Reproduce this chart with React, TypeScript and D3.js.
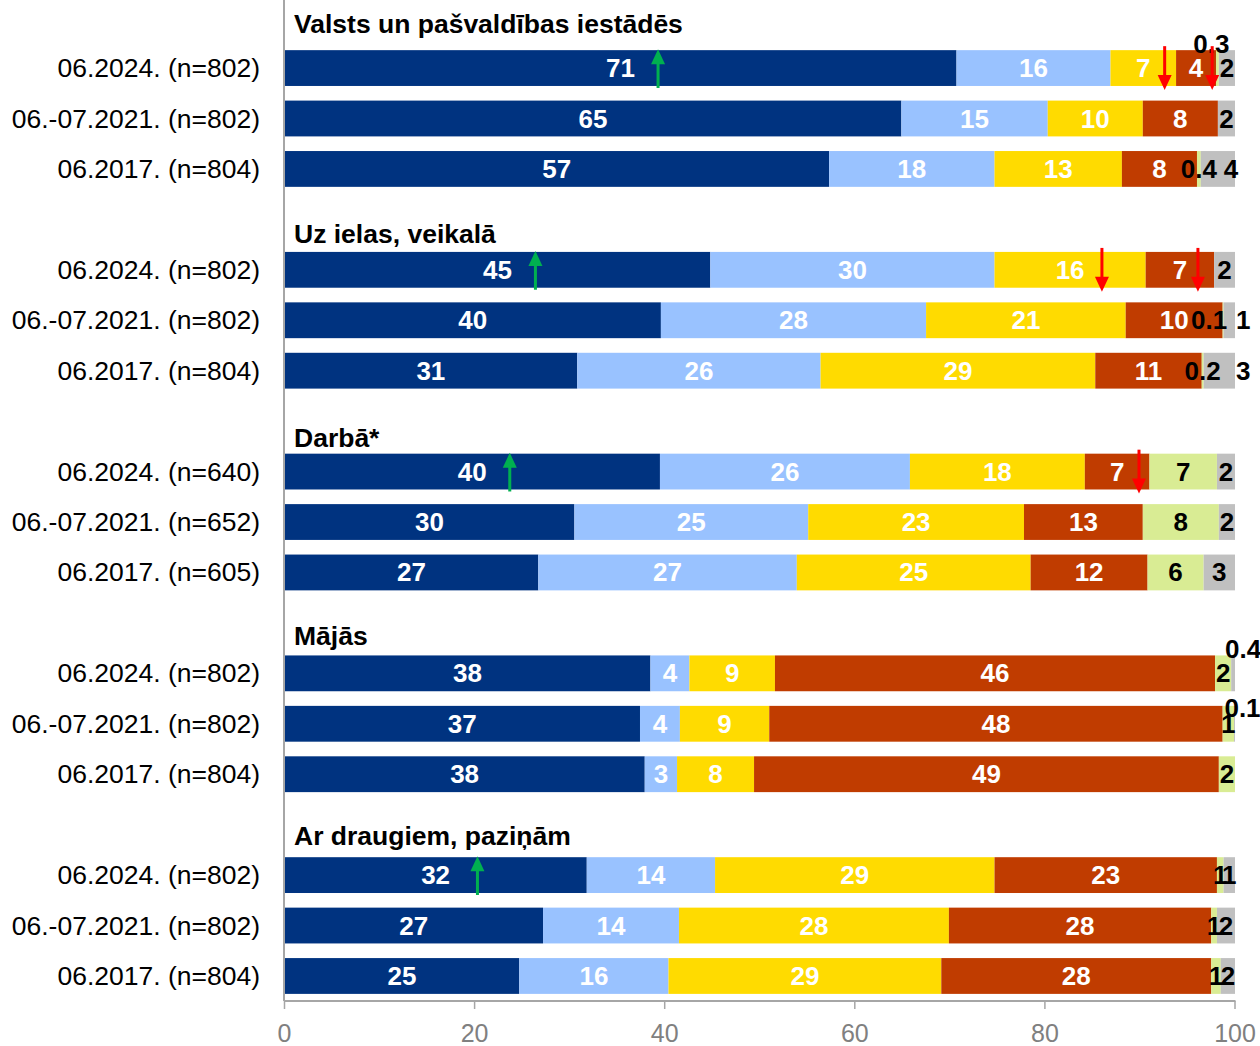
import React from "react";
import * as d3 from "d3";

// ---- Data ----
const groups = [
  "Valsts un pašvaldības iestādēs",
  "Uz ielas, veikalā",
  "Darbā*",
  "Mājās",
  "Ar draugiem, paziņām",
];

const rowLabels = [
  "06.2024. (n=802)", "06.-07.2021. (n=802)", "06.2017. (n=804)",
  "06.2024. (n=802)", "06.-07.2021. (n=802)", "06.2017. (n=804)",
  "06.2024. (n=640)", "06.-07.2021. (n=652)", "06.2017. (n=605)",
  "06.2024. (n=802)", "06.-07.2021. (n=802)", "06.2017. (n=804)",
  "06.2024. (n=802)", "06.-07.2021. (n=802)", "06.2017. (n=804)",
];

const s1 = [70.7, 64.9, 57.3, 44.8, 39.6, 30.8, 39.5, 30.5, 26.7, 38.5, 37.4, 37.9, 31.8, 27.2, 24.7];
const s2 = [16.2, 15.4, 17.4, 29.9, 27.9, 25.6, 26.3, 24.6, 27.2, 4.1, 4.2, 3.4, 13.5, 14.3, 15.7];
const s3 = [6.9, 10.0, 13.4, 15.9, 21.0, 28.9, 18.4, 22.7, 24.6, 9.0, 9.4, 8.1, 29.4, 28.4, 28.7];
const s4 = [4.2, 7.9, 7.9, 7.2, 10.2, 11.2, 6.8, 12.5, 12.3, 46.3, 47.7, 48.9, 23.4, 27.6, 28.4];
const s5 = [0.3, 0, 0.4, 0, 0.1, 0.2, 7.1, 8.0, 5.9, 1.7, 1.2, 1.7, 0.7, 0.6, 1.0];
const s6 = [1.7, 1.8, 3.6, 2.2, 1.2, 3.3, 1.9, 1.7, 3.3, 0.4, 0.1, 0, 1.2, 1.9, 1.5];

const l1 = ["71", "65", "57", "45", "40", "31", "40", "30", "27", "38", "37", "38", "32", "27", "25"];
const l2 = ["16", "15", "18", "30", "28", "26", "26", "25", "27", "4", "4", "3", "14", "14", "16"];
const l3 = ["7", "10", "13", "16", "21", "29", "18", "23", "25", "9", "9", "8", "29", "28", "29"];
const l4 = ["4", "8", "8", "7", "10", "11", "7", "13", "12", "46", "48", "49", "23", "28", "28"];
const l5 = ["0.3", "", "0.4", "", "0.1", "0.2", "7", "8", "6", "2", "1", "2", "1", "1", "1"];
const l6 = ["2", "2", "4", "2", "1", "3", "2", "2", "3", "0.4", "0.1", "", "1", "2", "2"];

const xTicks = [0, 20, 40, 60, 80, 100];

// significant-change arrows: row index, value position, direction
const arrowRows = [0, 3, 6, 12, 0, 0, 3, 3, 6];
const arrowValues = [39.3, 26.4, 23.7, 20.3, 92.6, 97.6, 86.0, 96.1, 89.9];
const arrowDirs = ["up", "up", "up", "up", "down", "down", "down", "down", "down"];

// ---- Styles ----
const colors = ["#003380", "#99c2ff", "#ffdb00", "#c03c00", "#d9ec94", "#c0c0c0"];
const labelColors = ["#ffffff", "#ffffff", "#ffffff", "#ffffff", "#000000", "#000000"];
const FONT = "'Liberation Sans', Arial, sans-serif";

// manual label nudges (px), keyed row-series
const nudges: Record<string, [number, number]> = {
  "0-4": [-6, -24],
  "2-5": [13, 0],
  "4-4": [-14, 0],
  "4-5": [14, 0],
  "5-5": [24, 0],
  "9-5": [10, -24],
  "10-5": [8, -16],
};
const titleDy = [15.5, 23.5, 26, 22, 20.5];

export default function App() {
  const width = 1260;
  const height = 1046;
  const series = [s1, s2, s3, s4, s5, s6];
  const labels = [l1, l2, l3, l4, l5, l6];

  const x = d3.scaleLinear().domain([0, 100]).range([284.5, 1235]);
  const slots = d3.range(20);
  const y = d3.scaleBand<number>().domain(slots).range([-7.6, 1001.2]).paddingInner(0.29).paddingOuter(0.145);

  const slotOf = (r: number) => Math.floor(r / 3) * 4 + (r % 3) + 1;
  const bw = y.bandwidth();
  const axisY = 1001;

  const segs: any[] = [];
  const texts: any[] = [];
  rowLabels.forEach((_, r) => {
    let cum = 0;
    const top = y(slotOf(r))!;
    series.forEach((s, k) => {
      const v = s[r];
      const x0 = x(cum);
      const x1 = x(cum + v);
      if (v > 0) {
        segs.push(
          <rect key={`b${r}-${k}`} x={x0} y={top} width={x1 - x0} height={bw} fill={colors[k]} />
        );
      }
      const lab = labels[k][r];
      if (lab) {
        const n = nudges[`${r}-${k}`] || [0, 0];
        texts.push(
          <text
            key={`t${r}-${k}`}
            x={(x0 + x1) / 2 + n[0]}
            y={top + bw / 2 + 9 + n[1]}
            textAnchor="middle"
            fontFamily={FONT}
            fontWeight="bold"
            fontSize={26}
            fill={labelColors[k]}
          >
            {lab}
          </text>
        );
      }
      cum += v;
    });
  });

  const arrows = arrowRows.map((r, i) => {
    const top = y(slotOf(r))!;
    const ax = x(arrowValues[i]);
    if (arrowDirs[i] === "up") {
      const tip = top - 1;
      const tail = top + bw + 2;
      return (
        <g key={`a${i}`}>
          <line x1={ax} x2={ax} y1={tail} y2={tip + 12} stroke="#00b050" strokeWidth={3} />
          <path d={`M${ax},${tip} L${ax - 7},${tip + 15} L${ax + 7},${tip + 15} Z`} fill="#00b050" />
        </g>
      );
    }
    const start = top - 4;
    const tip = top + bw + 4;
    return (
      <g key={`a${i}`}>
        <line x1={ax} x2={ax} y1={start} y2={tip - 12} stroke="#ff0000" strokeWidth={3} />
        <path d={`M${ax},${tip} L${ax - 7},${tip - 15} L${ax + 7},${tip - 15} Z`} fill="#ff0000" />
      </g>
    );
  });

  return (
    <svg
      width={width}
      height={height}
      style={{ position: "absolute", left: 0, top: 0, background: "#fff" }}
    >
      {segs}
      {/* axes */}
      <line x1={284} x2={284} y1={0} y2={axisY} stroke="#a6a6a6" strokeWidth={2} />
      <line x1={284} x2={1235.5} y1={axisY} y2={axisY} stroke="#a6a6a6" strokeWidth={2} />
      {xTicks.map((t) => (
        <g key={`xt${t}`}>
          <line x1={x(t)} x2={x(t)} y1={axisY} y2={axisY + 8} stroke="#a6a6a6" strokeWidth={1.5} />
          <text
            x={x(t)}
            y={axisY + 41}
            textAnchor="middle"
            fontFamily={FONT}
            fontSize={25}
            fill="#808080"
          >
            {t}
          </text>
        </g>
      ))}
      {texts}
      {arrows}
      {rowLabels.map((l, r) => (
        <text
          key={`rl${r}`}
          x={260}
          y={y(slotOf(r))! + bw / 2 + 9}
          textAnchor="end"
          fontFamily={FONT}
          fontSize={26.5}
          fill="#000"
        >
          {l}
        </text>
      ))}
      {groups.map((g, i) => (
        <text
          key={`g${i}`}
          x={294}
          y={y(i * 4)! + bw / 2 + titleDy[i]}
          fontFamily={FONT}
          fontWeight="bold"
          fontSize={26.5}
          fill="#000"
        >
          {g}
        </text>
      ))}
    </svg>
  );
}
